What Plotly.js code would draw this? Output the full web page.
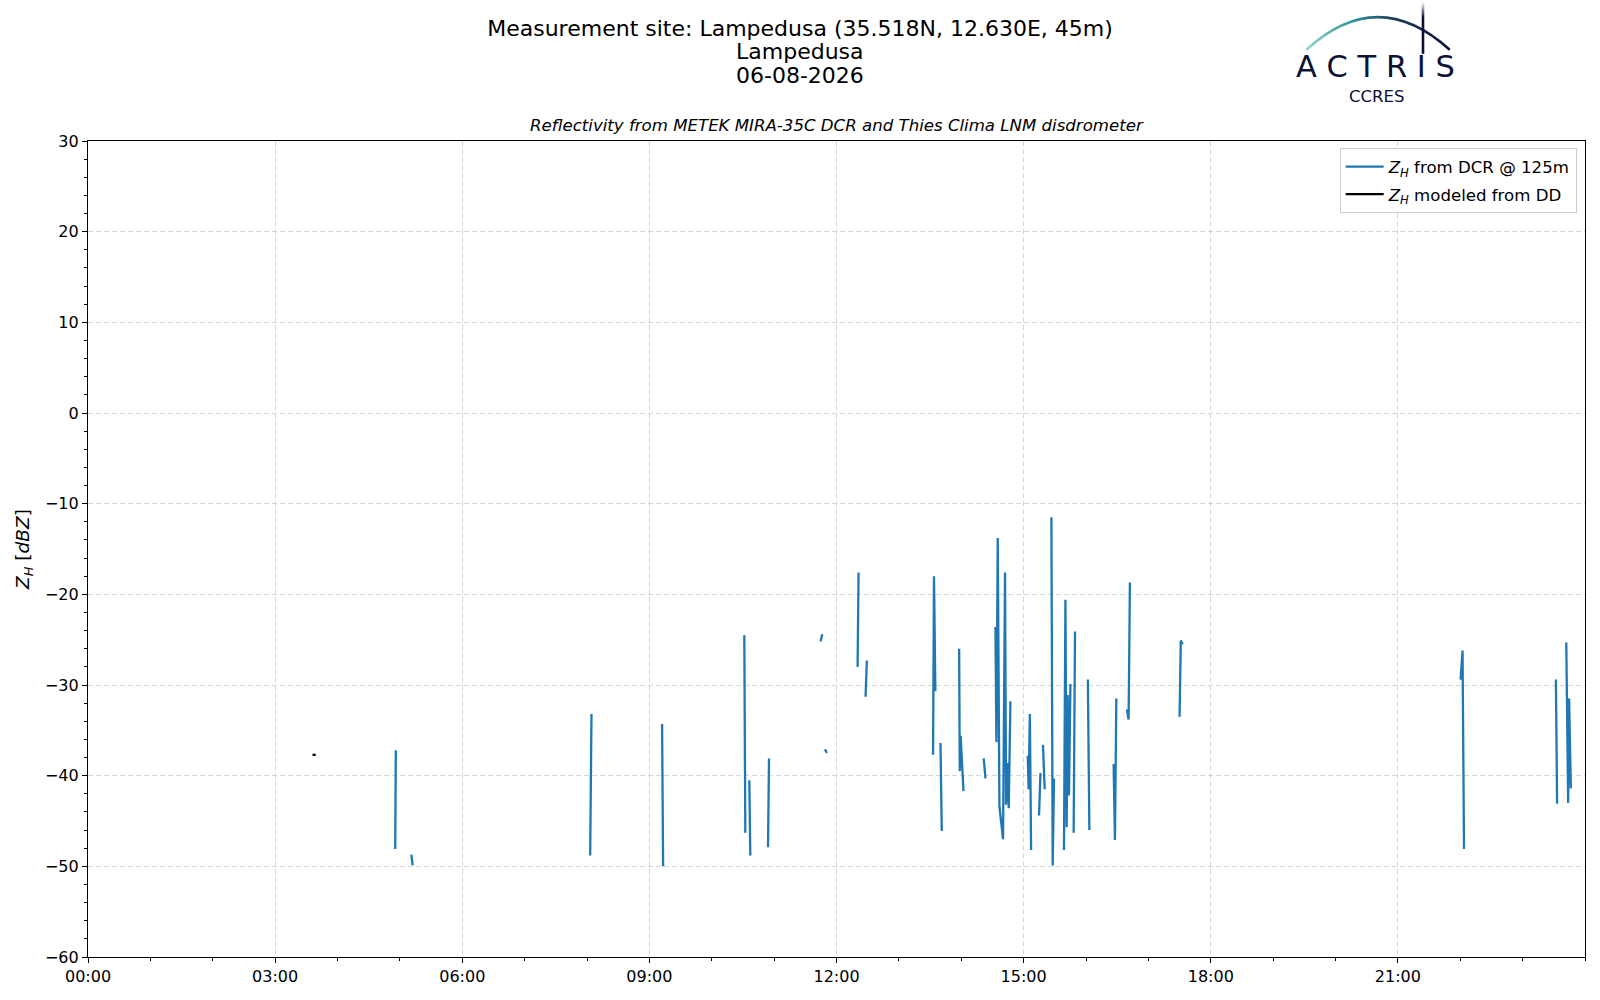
<!DOCTYPE html>
<html>
<head>
<meta charset="utf-8">
<script src="https://cdn.plot.ly/plotly-3.0.1.min.js"></script>
<style>
  html, body { margin: 0; padding: 0; background: #ffffff; }
  #chart { width: 1600px; height: 1000px; }
</style>
</head>
<body>
<div id="chart"></div>
<script>
// time of day in decimal hours, null = gap in the record
let dcr_hours = [
    4.925, 4.935, null,
    5.184, 5.205, null,
    8.051, 8.072, null,
    9.204, 9.220, null,
    10.522, 10.538, null,
    10.602, 10.618, null,
    10.902, 10.918, null,
    11.745, 11.771, null,
    11.814, 11.846, null,
    12.338, 12.354, null,
    12.466, 12.487, null,
    13.548, 13.563, 13.585, null,
    13.667, 13.688, null,
    13.966, 13.976, 13.990, 14.036, null,
    14.360, 14.388, null,
    14.548, 14.564, 14.585, 14.612, 14.670, 14.702, 14.718, 14.740, 14.761, 14.788, null,
    15.066, 15.080, 15.100, 15.120, null,
    15.247, 15.270, null,
    15.310, 15.338, null,
    15.445, 15.466, 15.487, null,
    15.647, 15.670, 15.690, 15.706, 15.727, 15.750, null,
    15.802, 15.824, null,
    16.030, 16.054, null,
    16.443, 16.464, 16.486, null,
    16.656, 16.683, 16.704, null,
    17.500, 17.520, 17.550, null,
    22.005, 22.037, 22.060, null,
    23.533, 23.553, null,
    23.700, 23.730, 23.745, 23.773
];
let dcr_zh = [
    -48.1, -37.2, null,
    -48.7, -49.9, null,
    -48.8, -33.2, null,
    -34.3, -50.0, null,
    -24.5, -46.3, null,
    -40.5, -48.8, null,
    -47.9, -38.1, null,
    -25.2, -24.4, null,
    -37.1, -37.5, null,
    -28.0, -17.6, null,
    -31.3, -27.3, null,
    -37.7, -18.0, -30.7, null,
    -36.4, -46.1, null,
    -26.0, -39.5, -35.6, -41.7, null,
    -38.1, -40.3, null,
    -23.6, -36.3, -13.8, -43.4, -47.0, -17.6, -43.2, -38.6, -43.6, -31.8, null,
    -37.8, -41.5, -33.2, -48.2, null,
    -44.4, -39.7, null,
    -36.6, -41.5, null,
    -11.5, -49.9, -40.3, null,
    -48.2, -20.6, -45.7, -31.1, -42.2, -29.9, null,
    -46.3, -24.1, null,
    -29.4, -46.0, null,
    -38.7, -47.1, -31.5, null,
    -32.7, -33.8, -18.7, null,
    -33.5, -25.1, -25.5, null,
    -29.4, -26.2, -48.1, null,
    -29.4, -43.1, null,
    -25.3, -43.0, -31.5, -41.4
];
let dd_hours = [3.600, 3.650];
let dd_zh = [-37.7, -37.7];

let day = "2026-08-06";
let tick_hours = [0, 3, 6, 9, 12, 15, 18, 21];
let tick_text = ["00:00", "03:00", "06:00", "09:00", "12:00", "15:00", "18:00", "21:00"];
let y_ticks = [-60, -50, -40, -30, -20, -10, 0, 10, 20, 30];

function pad(n) {
    return (n < 10 ? "0" : "") + n;
}

function stamp(h) {
    if (h === null) return null;
    let s = Math.round(h * 3600);
    return day + " " + pad(Math.floor(s / 3600)) + ":" + pad(Math.floor(s % 3600 / 60)) + ":" + pad(s % 60);
}

// figure pixels -> paper coordinates (plot area 88..1585 x 141..957)
let plot_l = 88.3, plot_r = 1585.3, plot_t = 140.7, plot_b = 957.3;
function px(x) { return (x - plot_l) / (plot_r - plot_l); }
function py(y) { return (plot_b - y) / (plot_b - plot_t); }

let font = "DejaVu Sans";
let logo_navy = "#0c1136";

let logo_svg =
    '<svg xmlns="http://www.w3.org/2000/svg" width="170" height="60" viewBox="0 0 170 60">' +
    '<defs>' +
    '<linearGradient id="arc" x1="0" y1="0" x2="1" y2="0">' +
    '<stop offset="0" stop-color="#93d6cf"/><stop offset="0.35" stop-color="#2e8e99"/>' +
    '<stop offset="0.62" stop-color="#1b3a5c"/><stop offset="1" stop-color="#0c1034"/>' +
    '</linearGradient>' +
    '<linearGradient id="mast" x1="0" y1="0" x2="0" y2="1">' +
    '<stop offset="0" stop-color="#0c1034" stop-opacity="0"/><stop offset="0.3" stop-color="#0c1034"/>' +
    '<stop offset="1" stop-color="#0c1034"/>' +
    '</linearGradient>' +
    '</defs>' +
    '<path d="M16.7 49.3 Q88 -16 160 49.3" fill="none" stroke="url(#arc)" stroke-width="2.6"/>' +
    '<rect x="132" y="1.5" width="2.6" height="52" fill="url(#mast)"/>' +
    '</svg>';

let trace1 = {
    x: dcr_hours.map(stamp),
    y: dcr_zh,
    type: "scatter",
    mode: "lines",
    connectgaps: false,
    name: "<i>Z</i><sub><i>H</i></sub> from DCR @ 125m",
    legendgroup: "dcr",
    line: { color: "#1f77b4", width: 2.3 }
};

let trace2 = {
    x: dd_hours.map(stamp),
    y: dd_zh,
    type: "scatter",
    mode: "lines",
    name: "<i>Z</i><sub><i>H</i></sub> modeled from DD",
    legendgroup: "dd",
    line: { color: "#000000", width: 2.3 }
};

let grid_dash = "5px,3px";

let layout = {
    width: 1600,
    height: 1000,
    paper_bgcolor: "#ffffff",
    plot_bgcolor: "#ffffff",
    font: { family: font, size: 16, color: "#000000" },
    margin: { l: 88, r: 15, t: 141, b: 43, pad: 0 },
    showlegend: true,
    title: {
        text: "Measurement site: Lampedusa (35.518N, 12.630E, 45m)",
        font: { family: font, size: 22, color: "#000000" },
        xref: "container",
        x: 0.5,
        xanchor: "center",
        yref: "container",
        y: 1 - 28.6 / 1000,
        yanchor: "middle"
    },
    xaxis: {
        type: "date",
        range: [stamp(0), day + " 23:59:59.9"],
        tickvals: tick_hours.map(stamp),
        ticktext: tick_text,
        ticks: "outside",
        ticklen: 5,
        tickwidth: 1,
        tickcolor: "#000000",
        tickfont: { size: 16 },
        showline: true,
        mirror: true,
        linecolor: "#000000",
        linewidth: 1.2,
        showgrid: true,
        gridcolor: "#d6d6d6",
        griddash: grid_dash,
        gridwidth: 1,
        zeroline: false,
        minor: { dtick: 3600000, ticks: "outside", ticklen: 3, tickcolor: "#000000", showgrid: false }
    },
    yaxis: {
        range: [-60, 30],
        tickvals: y_ticks,
        ticks: "outside",
        ticklen: 5,
        tickwidth: 1,
        tickcolor: "#000000",
        tickfont: { size: 16 },
        showline: true,
        mirror: true,
        linecolor: "#000000",
        linewidth: 1.2,
        showgrid: true,
        gridcolor: "#d6d6d6",
        griddash: grid_dash,
        gridwidth: 1,
        zeroline: false,
        minor: { dtick: 2, ticks: "outside", ticklen: 3, tickcolor: "#000000", showgrid: false },
        title: {
            text: "<i>Z</i><sub><i>H</i></sub> [<i>dBZ</i>]",
            font: { family: font, size: 18.5 },
            standoff: 10
        }
    },
    legend: {
        x: px(1577),
        y: py(148),
        xanchor: "right",
        yanchor: "top",
        bgcolor: "rgba(255,255,255,0.85)",
        bordercolor: "#cccccc",
        borderwidth: 1,
        font: { family: font, size: 16.6 },
        traceorder: "grouped",
        tracegroupgap: 3,
        itemwidth: 38
    },
    annotations: [
        {
            text: "Lampedusa",
            xref: "paper", yref: "paper",
            x: px(800), y: py(51.5),
            xanchor: "center", yanchor: "middle",
            showarrow: false,
            font: { family: font, size: 22, color: "#000000" }
        },
        {
            text: "06-08-2026",
            xref: "paper", yref: "paper",
            x: px(800), y: py(75),
            xanchor: "center", yanchor: "middle",
            showarrow: false,
            font: { family: font, size: 22, color: "#000000" }
        },
        {
            text: "<i>Reflectivity from METEK MIRA-35C DCR and Thies Clima LNM disdrometer</i>",
            xref: "paper", yref: "paper",
            x: 0.5, y: py(125.5),
            xanchor: "center", yanchor: "middle",
            showarrow: false,
            font: { family: font, size: 16.6, color: "#000000" }
        },
        {
            text: "A C T R I S",
            xref: "paper", yref: "paper",
            x: px(1376), y: py(84.6),
            xanchor: "center", yanchor: "bottom",
            borderpad: 0,
            showarrow: false,
            font: { family: font, size: 30.5, color: logo_navy }
        },
        {
            text: "CCRES",
            xref: "paper", yref: "paper",
            x: px(1376.5), y: py(85.4),
            xanchor: "center", yanchor: "top",
            borderpad: 0,
            showarrow: false,
            font: { family: font, size: 16.5, color: logo_navy }
        }
    ],
    images: [
        {
            source: "data:image/svg+xml;charset=utf-8," + encodeURIComponent(logo_svg),
            xref: "paper", yref: "paper",
            x: px(1290), y: py(0),
            sizex: 170 / (plot_r - plot_l),
            sizey: 60 / (plot_b - plot_t),
            xanchor: "left", yanchor: "top",
            sizing: "stretch",
            layer: "above"
        }
    ]
};

Plotly.newPlot("chart", [trace1, trace2], layout, { displayModeBar: false, responsive: false });
</script>
</body>
</html>
